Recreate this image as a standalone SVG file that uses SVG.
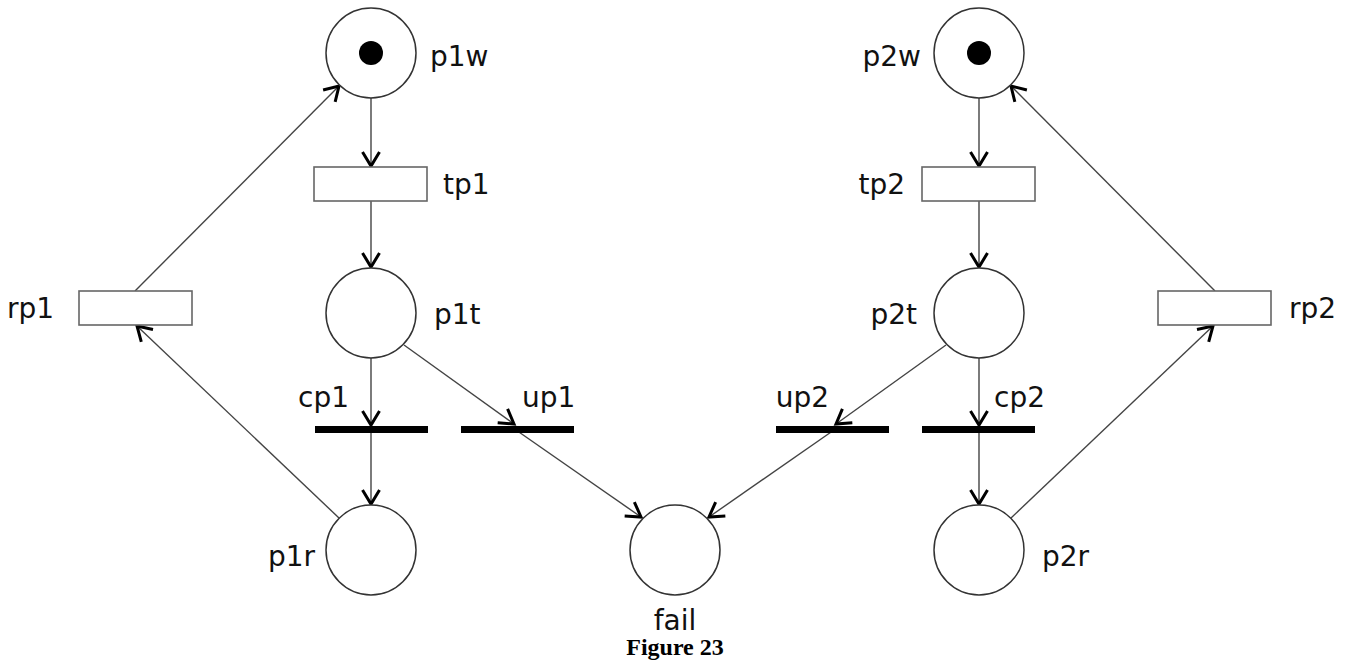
<svg xmlns="http://www.w3.org/2000/svg" width="1356" height="664" viewBox="0 0 1356 664">
<defs>
<style>
.place{fill:#fff;stroke:#333;stroke-width:1.5}
.trans{fill:#fff;stroke:#666;stroke-width:1.6}
.bar{fill:#000}
.tok{fill:#000}
.arc{fill:none;stroke:#444;stroke-width:1.4;marker-end:url(#ah)}
.lbl{font-family:"DejaVu Sans",Verdana,sans-serif;font-size:28px;fill:#111}
.cap{font-family:"Liberation Serif","Times New Roman",serif;font-size:24px;font-weight:bold;fill:#000}
</style>
<marker id="ah" markerUnits="userSpaceOnUse" markerWidth="22" markerHeight="22" viewBox="-17 -11 22 22" refX="0" refY="0" orient="auto">
<path d="M-14,-8.5 L0,0 L-14,8.5" fill="none" stroke="#000" stroke-width="3" stroke-linejoin="miter"/>
</marker>
</defs>
<rect width="1356" height="664" fill="#fff"/>
<g id="connectors">
<line class="arc" x1="371" y1="98" x2="371" y2="166"/>
<line class="arc" x1="371" y1="201" x2="371" y2="267"/>
<line class="arc" x1="371" y1="358" x2="371" y2="425"/>
<line class="arc" x1="371" y1="433" x2="371" y2="504"/>
<line class="arc" x1="404" y1="345" x2="514" y2="424"/>
<line class="arc" x1="516" y1="430" x2="641" y2="517"/>
<line class="arc" x1="339" y1="518" x2="137" y2="326"/>
<line class="arc" x1="135" y1="291" x2="339" y2="86"/>
<line class="arc" x1="979" y1="98" x2="979" y2="166"/>
<line class="arc" x1="979" y1="201" x2="979" y2="267"/>
<line class="arc" x1="979" y1="358" x2="979" y2="425"/>
<line class="arc" x1="979" y1="433" x2="979" y2="504"/>
<line class="arc" x1="946" y1="345" x2="836" y2="424"/>
<line class="arc" x1="834" y1="430" x2="709" y2="517"/>
<line class="arc" x1="1011" y1="518" x2="1213" y2="326"/>
<line class="arc" x1="1215" y1="291" x2="1011" y2="86"/>
</g>
<g id="p1w"><circle class="place" cx="371" cy="53" r="45"/><circle class="tok" cx="371" cy="53" r="12"/><text class="lbl" x="430" y="66">p1w</text></g>
<g id="tp1"><rect class="trans" x="314" y="167" width="113" height="34"/><text class="lbl" x="443" y="194">tp1</text></g>
<g id="p1t"><circle class="place" cx="371" cy="313" r="45"/><text class="lbl" x="434" y="324">p1t</text></g>
<g id="cp1"><rect class="bar" x="315" y="426" width="113" height="7"/><text class="lbl" x="298" y="407">cp1</text></g>
<g id="up1"><rect class="bar" x="461" y="426" width="113" height="7"/><text class="lbl" x="522" y="407">up1</text></g>
<g id="p1r"><circle class="place" cx="371" cy="550" r="45"/><text class="lbl" x="315" y="566" text-anchor="end">p1r</text></g>
<g id="rp1"><rect class="trans" x="79" y="291" width="113" height="34"/><text class="lbl" x="7" y="318">rp1</text></g>
<g id="fail"><circle class="place" cx="675" cy="550" r="45"/><text class="lbl" x="675" y="630" text-anchor="middle">fail</text></g>
<g id="p2w"><circle class="place" cx="979" cy="53" r="45"/><circle class="tok" cx="979" cy="53" r="12"/><text class="lbl" x="921" y="66" text-anchor="end">p2w</text></g>
<g id="tp2"><rect class="trans" x="922" y="167" width="113" height="34"/><text class="lbl" x="905" y="194" text-anchor="end">tp2</text></g>
<g id="p2t"><circle class="place" cx="979" cy="313" r="45"/><text class="lbl" x="917" y="324" text-anchor="end">p2t</text></g>
<g id="up2"><rect class="bar" x="776" y="426" width="113" height="7"/><text class="lbl" x="829" y="407" text-anchor="end">up2</text></g>
<g id="cp2"><rect class="bar" x="922" y="426" width="113" height="7"/><text class="lbl" x="994" y="407">cp2</text></g>
<g id="p2r"><circle class="place" cx="979" cy="550" r="45"/><text class="lbl" x="1042" y="566">p2r</text></g>
<g id="rp2"><rect class="trans" x="1158" y="291" width="113" height="34"/><text class="lbl" x="1289" y="318">rp2</text></g>
<text id="caption" class="cap" x="675" y="655" text-anchor="middle">Figure 23</text>
</svg>
